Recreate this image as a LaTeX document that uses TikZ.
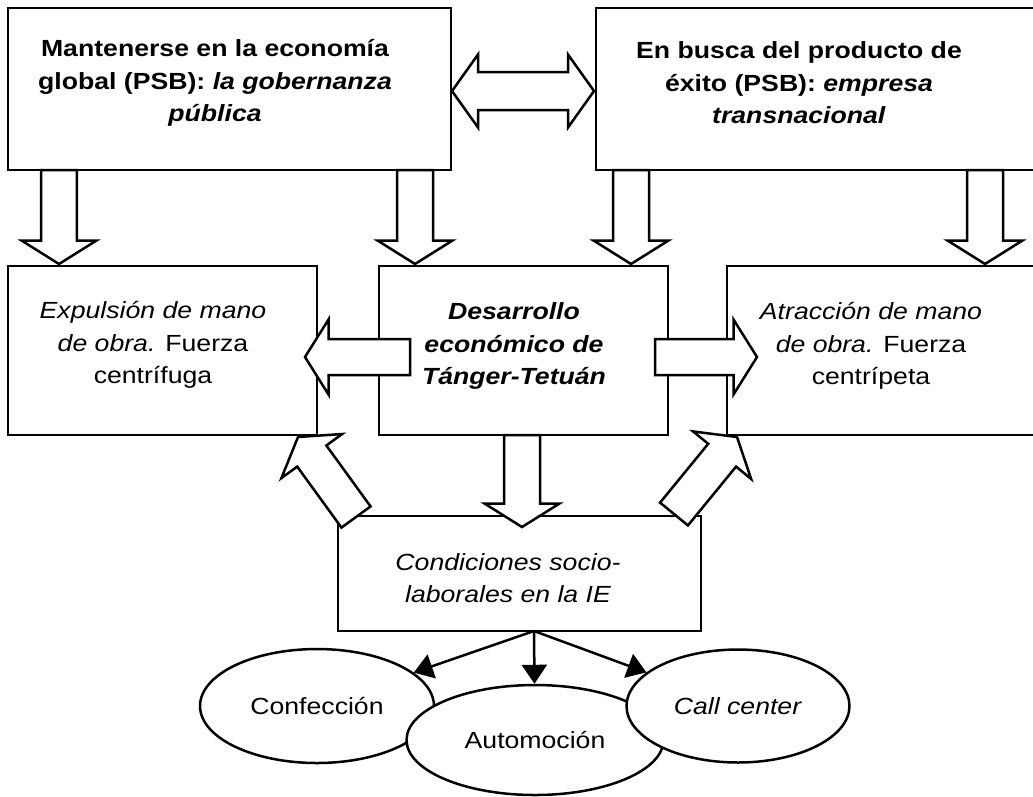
\documentclass[tikz,border=0pt]{standalone}
\usepackage{fontspec}
\setmainfont{Liberation Sans}[FakeStretch=1.14]
\usetikzlibrary{arrows.meta,calc,shapes.geometric}

\newcommand{\arrshaft}{0.36cm}
\newcommand{\arrhead}{0.75cm}
\newcommand{\arrlen}{0.47cm}
\newcommand{\fatarrow}[2]{%
  \draw[fat] let \p1=(#1), \p2=(#2), \n1={atan2(\y2-\y1,\x2-\x1)} in
    ($(\p1)+({\n1+90}:\arrshaft)$)
    -- ($(\p2)+({\n1+180}:\arrlen)+({\n1+90}:\arrshaft)$)
    -- ($(\p2)+({\n1+180}:\arrlen)+({\n1+90}:\arrhead)$)
    -- (\p2)
    -- ($(\p2)+({\n1+180}:\arrlen)+({\n1-90}:\arrhead)$)
    -- ($(\p2)+({\n1+180}:\arrlen)+({\n1-90}:\arrshaft)$)
    -- ($(\p1)+({\n1-90}:\arrshaft)$) -- cycle;}

\begin{document}
\begin{tikzpicture}[x=0.02cm, y=-0.02cm,
    box/.style={draw, line width=0.055cm, minimum height=3.38cm},
    lbl/.style={align=center, inner sep=0pt, font=\fontsize{13.3}{18.5}\selectfont},
    fat/.style={draw, fill=white, line width=0.05cm, line join=miter},
    oval/.style={ellipse, draw, fill=white, line width=0.05cm, inner sep=0pt,
      font=\fontsize{13.3}{18.5}\selectfont},
    link/.style={line width=0.05cm, -{Triangle[length=0.38cm, width=0.5cm]}}]
\useasboundingbox (0,0) rectangle (1033,796);

\node[box, minimum width=8.86cm, minimum height=3.24cm] (gob) at (229.5,89) {};
\node[box, minimum width=9.08cm, minimum height=3.24cm] (exito) at (823,89) {};
\node[box, minimum width=6.18cm] (expul) at (162.5,350.5) {};
\node[box, minimum width=5.78cm] (desa) at (523.5,350.5) {};
\node[box, minimum width=6.46cm] (atrac) at (888.5,350.5) {};
\node[box, minimum width=7.26cm, minimum height=2.3cm] (cond) at (519.5,573.5) {};

\coordinate (dbl1) at (452,91);
\coordinate (dbl2) at (594,91);
\draw[fat] (dbl1) -- ++(26,-36.5) -- ++(0,17.5) -- ($(dbl2)+(-26,-19)$) -- ++(0,-17.5)
  -- (dbl2) -- ++(-26,36.5) -- ++(0,-17.5) -- ($(dbl1)+(26,19)$) -- ++(0,17.5) -- cycle;

\coordinate (g1t) at (59,170);   \coordinate (g1h) at (59,264);
\coordinate (g2t) at (415,170);  \coordinate (g2h) at (415,264);
\coordinate (e1t) at (631,170);  \coordinate (e1h) at (631,264);
\coordinate (e2t) at (985,170);  \coordinate (e2h) at (985,264);
\coordinate (dlt) at (410,357);  \coordinate (dlh) at (305,357);
\coordinate (drt) at (655,357);  \coordinate (drh) at (757,357);
\coordinate (ddt) at (522,435);  \coordinate (ddh) at (522,527);
\coordinate (clt) at (356,517);  \coordinate (clh) at (298,437);
\coordinate (crt) at (674,514);  \coordinate (crh) at (737,437);

\fatarrow{g1t}{g1h}
\fatarrow{g2t}{g2h}
\fatarrow{e1t}{e1h}
\fatarrow{e2t}{e2h}
\fatarrow{dlt}{dlh}
\fatarrow{drt}{drh}
\fatarrow{ddt}{ddh}
\fatarrow{clt}{clh}
\fatarrow{crt}{crh}

\node[lbl, font=\fontsize{13.3}{18.5}\selectfont\bfseries] (gobtxt) at (215,83)
  {Mantenerse en la economía\\global (PSB): \textit{la gobernanza}\\\textit{pública}};
\node[lbl, font=\fontsize{13.3}{18.5}\selectfont\bfseries] (exitotxt) at (799,83)
  {En busca del producto de\\éxito (PSB): \textit{empresa}\\\textit{transnacional}};
\node[lbl] (expultxt) at (153,345)
  {\textit{Expulsión de mano}\\\textit{de obra.} Fuerza\\centrífuga};
\node[lbl, font=\fontsize{13.3}{18.5}\selectfont\bfseries\itshape] (desatxt) at (514,346)
  {Desarrollo\\económico de\\Tánger-Tetuán};
\node[lbl] (atractxt) at (871,346)
  {\textit{Atracción de mano}\\\textit{de obra.} Fuerza\\centrípeta};
\node[lbl, font=\fontsize{13.3}{18.5}\selectfont\itshape] (condtxt) at (508,578)
  {Condiciones socio-\\laborales en la IE};

\node[oval, minimum width=4.68cm, minimum height=2.28cm] (conf) at (317,706) {Confección};
\node[oval, minimum width=5.14cm, minimum height=2.2cm] (auto) at (535,740) {Automoción};
\node[oval, minimum width=4.46cm, minimum height=2.26cm] (call) at (738,706) {\textit{Call center}};

\coordinate (split) at (534,631);
\draw[link] (split) -- (conf);
\draw[link] (split) -- (auto);
\draw[link] (split) -- (call);
\end{tikzpicture}
\end{document}
